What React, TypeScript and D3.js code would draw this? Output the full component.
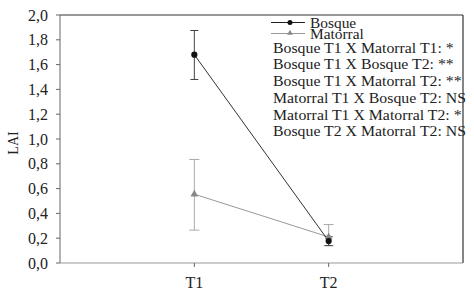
import React from "react";
import * as d3 from "d3";

const categories = ["T1", "T2"];
const bosque = [1.68, 0.177];
const bosqueErrHigh = [0.195, 0.035];
const bosqueErrLow = [0.2, 0.037];
const matorral = [0.555, 0.21];
const matorralErrHigh = [0.28, 0.1];
const matorralErrLow = [0.29, 0.07];
const yTicks = [0, 0.2, 0.4, 0.6, 0.8, 1.0, 1.2, 1.4, 1.6, 1.8, 2.0];
const legendLabels = ["Bosque", "Matorral"];
const notes = [
  "Bosque T1 X Matorral T1: *",
  "Bosque T1 X Bosque T2: **",
  "Bosque T1 X Matorral T2: **",
  "Matorral T1 X Bosque T2: NS",
  "Matorral T1 X Matorral T2: *",
  "Bosque T2 X Matorral T2: NS",
];

const W = 474, H = 298;
const left = 60, right = 463, top = 15, bottom = 263;
const tf = { fontFamily: '"Liberation Serif"' };

export default function App() {
  const y = d3.scaleLinear().domain([0, 2]).range([bottom, top]);
  const x = d3.scalePoint<string>().domain(["", ...categories, " "]).range([left, right]);
  const fmt = (v: number) => v.toFixed(1).replace(".", ",");
  const lineGen = d3.line<number>().x((_, i) => x(categories[i])!).y((d) => y(d));
  return (
    <svg width={W} height={H} style={{ position: "absolute", left: 0, top: 0, background: "#fff" }}>
      {/* frame */}
      <line x1={left} y1={top} x2={right} y2={top} stroke="#333" strokeWidth={1} />
      <line x1={right} y1={top} x2={right} y2={bottom} stroke="#333" strokeWidth={1.2} />
      <line x1={left} y1={bottom} x2={right} y2={bottom} stroke="#999" strokeWidth={1.2} />
      <line x1={left} y1={top} x2={left} y2={bottom} stroke="#666" strokeWidth={1} />
      {yTicks.map((t) => (
        <g key={t}>
          <line x1={left - 4} x2={left} y1={y(t)} y2={y(t)} stroke="#666" />
          <text x={48} y={y(t) + 5.5} textAnchor="end" fontSize={16} fill="#222" style={tf}>{fmt(t)}</text>
        </g>
      ))}
      <text transform={`translate(18,${(top + bottom) / 2 + 4}) rotate(-90)`} textAnchor="middle" fontSize={14} fill="#222" style={tf}>LAI</text>
      {categories.map((c) => (
        <g key={c}>
          <line x1={x(c)!} x2={x(c)!} y1={bottom} y2={bottom + 4} stroke="#666" />
          <text x={x(c)!} y={288} textAnchor="middle" fontSize={16} fill="#222" style={tf}>{c}</text>
        </g>
      ))}
      {/* Matorral error bars */}
      {categories.map((c, i) => {
        const cx = x(c)!;
        const hi = y(matorral[i] + matorralErrHigh[i]);
        const lo = y(matorral[i] - matorralErrLow[i]);
        const cap = 5;
        return (
          <g key={"me" + c} stroke="#aaa" strokeWidth={1}>
            <line x1={cx} x2={cx} y1={hi} y2={lo} />
            <line x1={cx - cap} x2={cx + cap} y1={hi} y2={hi} />
            <line x1={cx - cap} x2={cx + cap} y1={lo} y2={lo} />
          </g>
        );
      })}
      {/* Bosque error bars */}
      {categories.map((c, i) => {
        const cx = x(c)!;
        const hi = y(bosque[i] + bosqueErrHigh[i]);
        const lo = y(bosque[i] - bosqueErrLow[i]);
        const cap = 4;
        return (
          <g key={"be" + c} stroke="#444" strokeWidth={1}>
            <line x1={cx} x2={cx} y1={hi} y2={lo} />
            <line x1={cx - cap} x2={cx + cap} y1={hi} y2={hi} />
            <line x1={cx - cap} x2={cx + cap} y1={lo} y2={lo} />
          </g>
        );
      })}
      <path d={lineGen(matorral)!} fill="none" stroke="#999" strokeWidth={1} />
      <path d={lineGen(bosque)!} fill="none" stroke="#333" strokeWidth={1} />
      {categories.map((c, i) => (
        <path key={"mt" + c} d={d3.symbol(d3.symbolTriangle, 26)()!} transform={`translate(${x(c)},${y(matorral[i])})`} fill="#888" />
      ))}
      {categories.map((c, i) => (
        <circle key={"bc" + c} cx={x(c)!} cy={y(bosque[i])} r={3.1} fill="#111" />
      ))}
      {/* legend */}
      <line x1={271} x2={305} y1={22.5} y2={22.5} stroke="#222" />
      <circle cx={290} cy={22.5} r={2.5} fill="#111" />
      <line x1={271} x2={305} y1={33.5} y2={33.5} stroke="#999" />
      <path d={d3.symbol(d3.symbolTriangle, 14)()!} transform="translate(290,33)" fill="#888" />
      <g transform="translate(310,0) scale(1.1,1)">
        {legendLabels.map((l, i) => (
          <text key={l} x={0} y={28.3 + i * 10.8} fontSize={14} fill="#222" style={tf}>{l}</text>
        ))}
      </g>
      <g transform="translate(273,0) scale(1.13,1)">
        {notes.map((n, i) => (
          <text key={n} x={0} y={52.7 + i * 16.75} fontSize={14} fill="#222" style={tf}>{n}</text>
        ))}
      </g>
    </svg>
  );
}
